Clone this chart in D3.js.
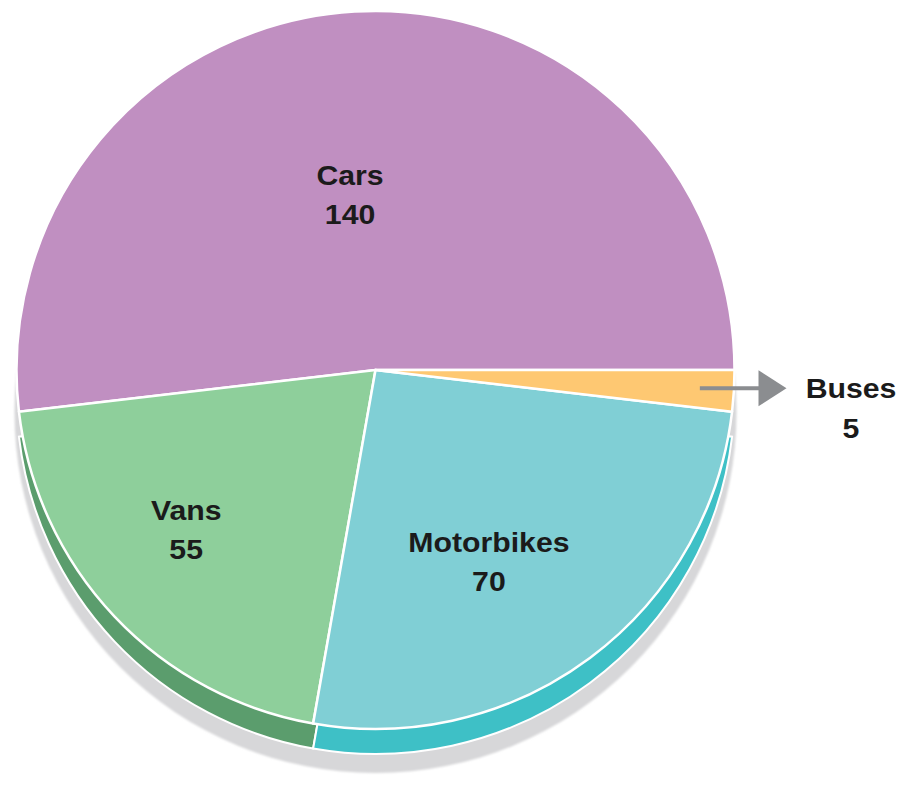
<!DOCTYPE html>
<html>
<head>
<meta charset="utf-8">
<script src="https://cdn.jsdelivr.net/npm/d3@7"></script>
<style>
  html, body { margin: 0; padding: 0; background: #ffffff; }
  svg { display: block; }
</style>
</head>
<body>
<script>
// ---- data ----
const categories = ["Cars", "Vans", "Motorbikes", "Buses"];
const values = [140, 55, 70, 5];
const colors = ["#c08fc1", "#8ecf9b", "#80cfd5", "#fec872"];
const sideColors = [null, "#5b9d6d", "#3ec0c6", null];

// ---- layout ----
const W = 900, H = 785;
const cx = 375.5, cy = 370, R = 359;
const depth = 25, shadowDy = 42;
// label placement (first baseline): [radius, angular shift in degrees (math, ccw)]
const labelLayout = [[186.7, 4.5], [241.7, -4.9], [214.5, -4.75], null];
const lineGap = 39;

const svg = d3.select("body").append("svg").attr("width", W).attr("height", H);

const data = categories.map((c, i) => ({ name: c, value: values[i], i }));
const pie = d3.pie().value(d => d.value).sort(null)
  .startAngle(Math.PI / 2).endAngle(Math.PI / 2 - 2 * Math.PI);
const arcs = pie(data);
const arc = d3.arc().innerRadius(0).outerRadius(R);

const defs = svg.append("defs");
defs.append("filter").attr("id", "blur")
  .append("feGaussianBlur").attr("stdDeviation", 1.2);

// shadow
svg.append("circle")
  .attr("cx", cx).attr("cy", cy + shadowDy).attr("r", R + 2)
  .attr("fill", "#d7d7d9").attr("filter", "url(#blur)");

// side band (extruded)
const sideG = svg.append("g").attr("transform", `translate(${cx},${cy + depth})`);
sideG.selectAll("path").data(arcs.filter(d => sideColors[d.data.i]))
  .join("path")
  .attr("d", arc)
  .attr("fill", d => sideColors[d.data.i])
  .attr("stroke", "#ffffff").attr("stroke-width", 2);

// top face
const faceG = svg.append("g").attr("transform", `translate(${cx},${cy})`);
faceG.selectAll("path").data(arcs).join("path")
  .attr("d", arc)
  .attr("fill", d => colors[d.data.i])
  .attr("stroke", "#ffffff").attr("stroke-width", 2.5)
  .attr("stroke-linejoin", "round");

// labels
const fontFamily = "'Liberation Sans', Arial, sans-serif";
function label(x, y, lines, gap) {
  const g = svg.append("g").attr("transform", `translate(${x},${y}) scale(1.08,1)`);
  const t = g.append("text")
    .attr("text-anchor", "middle")
    .attr("font-family", fontFamily).attr("font-weight", "bold")
    .attr("font-size", 28).attr("fill", "#1b1b1b");
  t.append("tspan").attr("x", 0).attr("y", 0).text(lines[0]);
  t.append("tspan").attr("x", 0).attr("y", gap).text(lines[1]);
}
arcs.forEach(d => {
  const lay = labelLayout[d.data.i];
  if (!lay) return;
  const midD3 = (d.startAngle + d.endAngle) / 2;
  const math = Math.PI / 2 - midD3 + lay[1] * Math.PI / 180;
  const x = cx + lay[0] * Math.cos(math);
  const y = cy - lay[0] * Math.sin(math);
  label(x, y, [d.data.name, d.data.value], lineGap);
});

// Buses callout
const bus = arcs[3];
const busMid = Math.PI / 2 - (bus.startAngle + bus.endAngle) / 2;
const ay = cy - (R * 0.95) * Math.sin(busMid) - 1.5;
const ax0 = cx + R * 0.905 * Math.cos(busMid);
const ax1 = cx + R + 52;
svg.append("line")
  .attr("x1", ax0).attr("y1", ay).attr("x2", ax1 - 26).attr("y2", ay)
  .attr("stroke", "#8b8d90").attr("stroke-width", 4);
svg.append("path")
  .attr("d", `M${ax1 - 28},${ay - 18}L${ax1},${ay}L${ax1 - 28},${ay + 18}Z`)
  .attr("fill", "#8b8d90");
label(851, 398, [bus.data.name, bus.data.value], 40);
</script>
</body>
</html>
